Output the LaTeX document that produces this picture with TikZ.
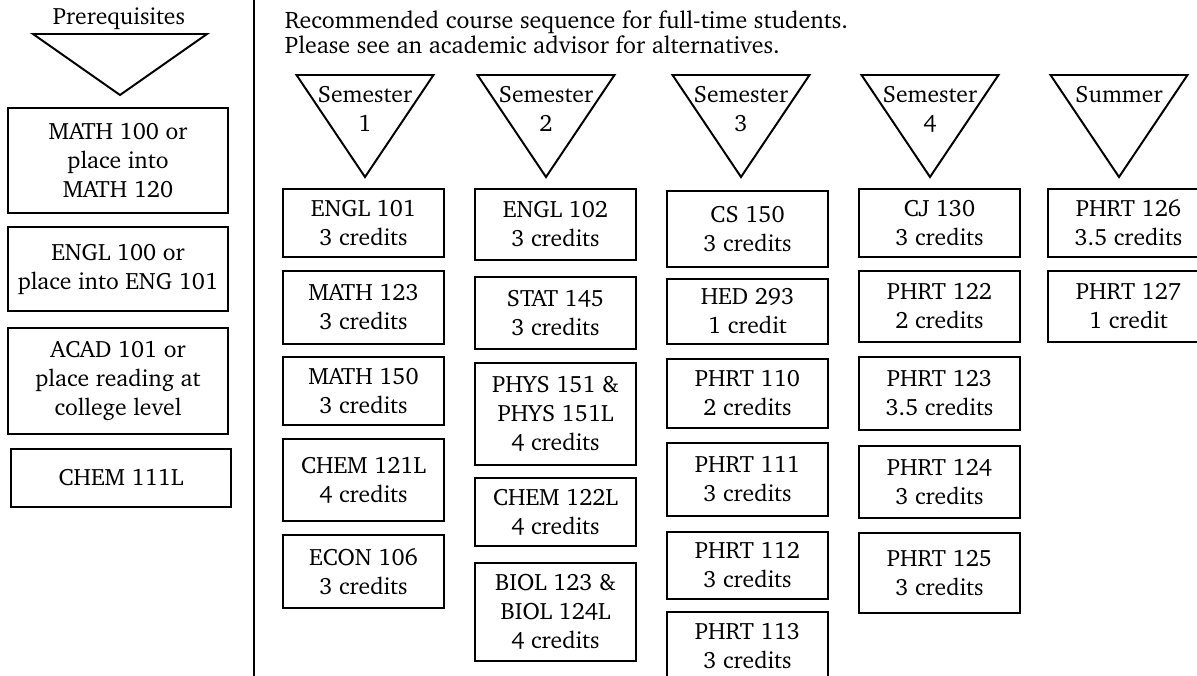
\documentclass[tikz,border=0pt]{standalone}
\usepackage[T1]{fontenc}
\usepackage{charter}

\begin{document}
\begin{tikzpicture}[x=0.025cm,y=-0.025cm,line width=1.4pt,line join=miter,
  txt/.style={font=\fontsize{16.8}{20.6}\selectfont},
  course/.style={txt,draw,inner sep=0pt,minimum width=4.025cm,align=center},
  prereq/.style={course,minimum width=5.5cm},
  termlbl/.style={txt,inner sep=0pt,align=center}]
  \useasboundingbox (0,0) rectangle (1197,676);
  \clip (0,0) rectangle (1197,676);
  % prerequisites
  \node[txt] (prerlbl) at (119,19) {Prerequisites};
  \draw (33,34) -- (207,34) -- (120,95) -- cycle;
  \foreach \n/\x/\yt/\yb/\t in {pmath/118/108/213/{MATH 100 or\\place into\\MATH 120},
      pengl/118/227/311/{ENGL 100 or\\place into ENG 101},
      pacad/118/328/434/{ACAD 101 or\\place reading at\\college level},
      pchem/121/449/507/{CHEM 111L}}{
    \pgfmathsetmacro\h{(\yb-\yt)*0.025}
    \node[prereq,minimum height=\h cm] (\n) at (\x,{(\yt+\yb)/2}) {\t};
  }
  \draw (254,0) -- (254,676);
  \node[font=\fontsize{17}{17.7}\selectfont,anchor=north west,align=left,inner sep=0pt] (intro) at (284,10)
    {Recommended course sequence for full-time students.\\Please see an academic advisor for alternatives.};
  % terms
  \foreach \n/\x/\t in {sem1/365/{Semester\\1},sem2/546/{Semester\\2},sem3/741/{Semester\\3},sem4/930/{Semester\\4}}{
    \draw (\x-68.5,75) -- (\x+68.5,75) -- (\x,177) -- cycle;
    \node[termlbl] (\n) at (\x,109) {\t};
  }
  \draw (1050.5,75) -- (1187.5,75) -- (1119,177) -- cycle;
  \node[termlbl] (summ) at (1119,95) {Summer};
  % courses
  \foreach \n/\x/\yt/\yb/\t in {
      engla/363.5/189/257/{ENGL 101\\3 credits}, matha/363.5/271/344/{MATH 123\\3 credits},
      mathb/363.5/357/425/{MATH 150\\3 credits}, chema/363.5/439/521/{CHEM 121L\\4 credits},
      econ/363.5/535/608/{ECON 106\\3 credits},
      englb/555.5/189/260/{ENGL 102\\3 credits}, stat/555.5/277/349/{STAT 145\\3 credits},
      phys/555.5/363/465/{PHYS 151 \&\\PHYS 151L\\4 credits}, chemb/555.5/478/546/{CHEM 122L\\4 credits},
      biol/555.5/563/661/{BIOL 123 \&\\BIOL 124L\\4 credits},
      cs/747.5/191/267/{CS 150\\3 credits}, hed/747.5/279/344/{HED 293\\1 credit},
      phrta/747.5/359/428/{PHRT 110\\2 credits}, phrtb/747.5/443/516/{PHRT 111\\3 credits},
      phrtc/747.5/532/599/{PHRT 112\\3 credits}, phrtd/747.5/612/680/{PHRT 113\\3 credits},
      cj/939.5/189/257/{CJ 130\\3 credits}, phrte/939.5/271/342/{PHRT 122\\2 credits},
      phrtf/939.5/357/430/{PHRT 123\\3.5 credits}, phrtg/939.5/446/518/{PHRT 124\\3 credits},
      phrth/939.5/533/613/{PHRT 125\\3 credits},
      phrti/1128.5/189/257/{PHRT 126\\3.5 credits}, phrtj/1128.5/271/342/{PHRT 127\\1 credit}}{
    \pgfmathsetmacro\h{(\yb-\yt)*0.025}
    \node[course,minimum height=\h cm] (\n) at (\x,{(\yt+\yb)/2}) {\t};
  }
\end{tikzpicture}
\end{document}
